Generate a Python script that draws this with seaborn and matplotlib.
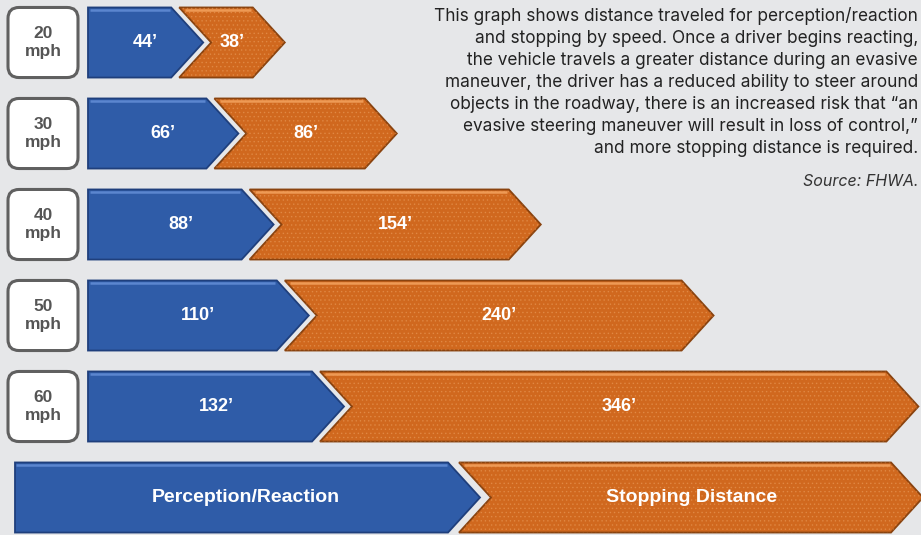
import matplotlib
matplotlib.use("Agg")
import matplotlib.pyplot as plt
import seaborn as sns
from matplotlib.patches import Polygon, FancyBboxPatch

# 数据
speeds = ["20", "30", "40", "50", "60"]
reaction_ft = [44, 66, 88, 110, 132]
stopping_ft = [38, 86, 154, 240, 346]
legend_labels = ["Perception/Reaction", "Stopping Distance"]

note = ("This graph shows distance traveled for perception/reaction\n"
        "and stopping by speed. Once a driver begins reacting,\n"
        "the vehicle travels a greater distance during an evasive\n"
        "maneuver, the driver has a reduced ability to steer around\n"
        "objects in the roadway, there is an increased risk that \u201can\n"
        "evasive steering maneuver will result in loss of control,\u201d\n"
        "and more stopping distance is required.")
source = "Source: FHWA."

BG = "#e6e7e9"
BLUE = "#2f5ca8"
BLUE_EDGE = "#1f3f7c"
BLUE_HI = "#5b86cf"
ORANGE = "#d0681e"
ORANGE_EDGE = "#8a430f"
ORANGE_HI = "#ee9a55"

sns.set_theme(style="white", rc={"figure.facecolor": BG, "axes.facecolor": BG})
plt.rcParams["font.family"] = ["Liberation Sans", "DejaVu Sans"]
plt.rcParams["hatch.linewidth"] = 0.6

W, H_PX = 921, 535
fig = plt.figure(figsize=(W / 100, H_PX / 100), dpi=100)

# 行的y坐标: 每行91像素, 第一行中心在42.5像素
ylim = (H_PX - 42.5) / 91, -42.5 / 91
HALF = 0.385

# 数据轴: x单位是英尺
ax = fig.add_axes([0, 0, 1, 1])
ax.set_xlim(-88 / 1.6, (W - 88) / 1.6)
ax.set_ylim(*ylim)
ax.axis("off")

# 布局轴: x单位是像素 (速度框, 图例)
lay = fig.add_axes([0, 0, 1, 1], zorder=-1)
lay.set_xlim(0, W)
lay.set_ylim(*ylim)
lay.axis("off")


def chevron(a, x0, x1, y, head, fc, ec, hi, notch, dots=False):
    pts = [(x0, y - HALF), (x1 - head, y - HALF), (x1, y),
           (x1 - head, y + HALF), (x0, y + HALF)]
    if notch:
        pts.append((x0 + head, y))
    a.add_patch(Polygon(pts, closed=True, fc=fc, ec=ec, lw=1.3, zorder=2))
    if dots:
        a.add_patch(Polygon(pts, closed=True, fill=False, hatch="....",
                            ec=(1, 0.78, 0.55, 0.25), lw=0, zorder=3))
    # 顶部高光
    xs = x0 + (head if notch else 0) * 0.12
    a.plot([xs + 1, x1 - head - 1], [y - HALF + 0.025] * 2, color=hi,
           lw=1.8, zorder=4, solid_capstyle="butt")


HEAD = 20   # 箭头尖的深度
PAD = 28    # 每个箭头额外长度
OVER = 15   # 橙色缺口套在蓝色尖上

for i, (sp, b, s) in enumerate(zip(speeds, reaction_ft, stopping_ft)):
    b_end = b + PAD
    chevron(ax, 0, b_end, i, HEAD, BLUE, BLUE_EDGE, BLUE_HI, False)
    ax.text(b_end / 2, i, f"{b}\u2019", ha="center", va="center",
            color="white", fontsize=13, fontweight="bold", zorder=5)
    o0 = b_end - OVER
    o1 = o0 + s + PAD
    chevron(ax, o0, o1, i, HEAD, ORANGE, ORANGE_EDGE, ORANGE_HI, True, dots=True)
    ax.text((o0 + o1) / 2, i, f"{s}\u2019", ha="center", va="center",
            color="white", fontsize=13, fontweight="bold", zorder=5)

    # 速度框
    lay.add_patch(FancyBboxPatch((8, i - HALF), 70, 2 * HALF,
                                 boxstyle="round,pad=0,rounding_size=11",
                                 mutation_aspect=1 / 91, fc="white",
                                 ec="#606060", lw=2.2, zorder=2))
    lay.text(43, i, f"{sp}\nmph", ha="center", va="center", color="#555555",
             fontsize=12.5, fontweight="bold", linespacing=1.3, zorder=3)

# 图例
chevron(lay, 15, 480, 5, 32, BLUE, BLUE_EDGE, BLUE_HI, False)
lay.text(246, 5, legend_labels[0], ha="center", va="center", color="white",
         fontsize=14, fontweight="bold", zorder=5)
chevron(lay, 459, W + 2, 5, 32, ORANGE, ORANGE_EDGE, ORANGE_HI, True, dots=True)
lay.text(692, 5, legend_labels[1], ha="center", va="center", color="white",
         fontsize=14, fontweight="bold", zorder=5)

# 说明文字
fig.text(918 / W, 1 - 7 / H_PX, note, ha="right", va="top", multialignment="right",
         fontsize=12.4, color="#222222", linespacing=1.38, family=["Inter", "DejaVu Sans"])
fig.text(918 / W, 1 - 181 / H_PX, source, ha="right", va="center",
         fontsize=11.5, color="#333333", style="italic", family=["Inter", "DejaVu Sans"])

fig.savefig("out.png", dpi=100, facecolor=BG)
